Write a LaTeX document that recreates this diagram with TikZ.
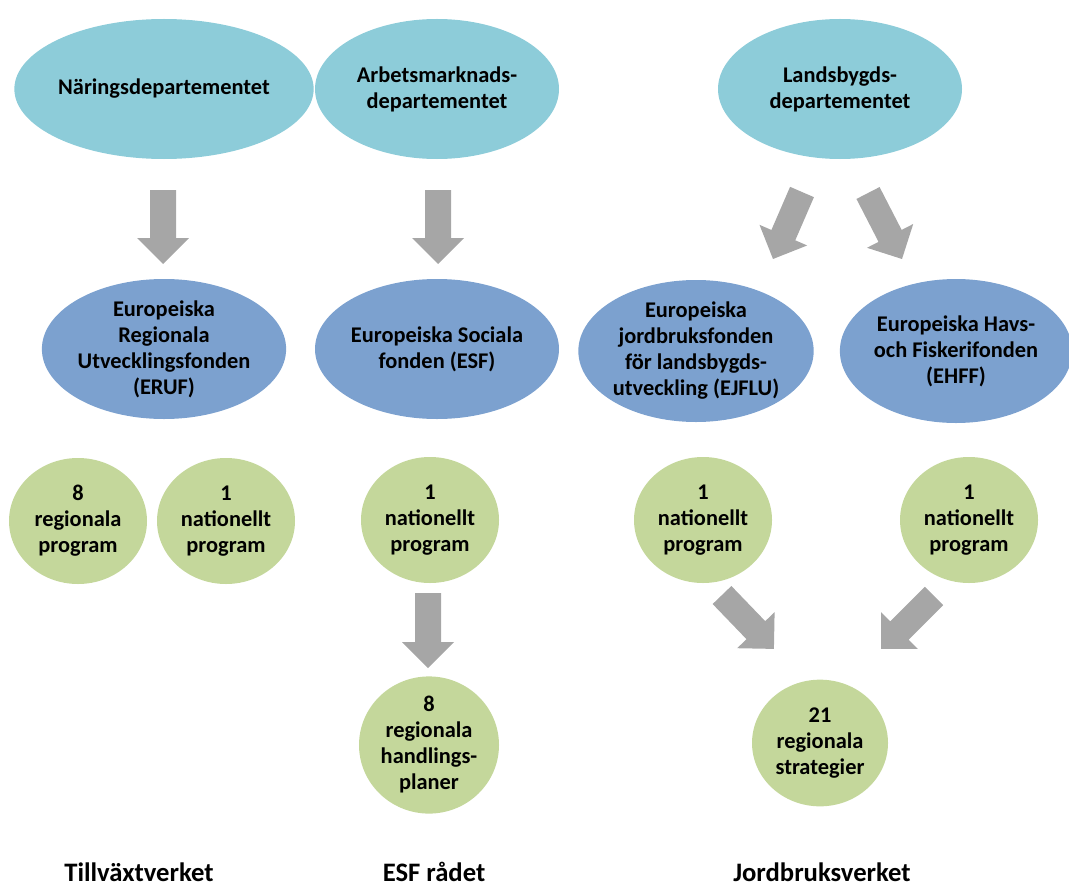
\documentclass[tikz,border=0pt]{standalone}
\usepackage{fontspec}
\setmainfont{Carlito}
\usetikzlibrary{shapes.geometric,calc}
\definecolor{deptcol}{RGB}{141,204,217}
\definecolor{fundcol}{RGB}{124,161,207}
\definecolor{progcol}{RGB}{196,215,155}
\definecolor{arrowgray}{RGB}{166,166,166}
\newcommand\blockarrow[2]{%
  \fill[arrowgray] let \p1=($(#2)-(#1)$), \n1={atan2(\y1,\x1)}, \n2={veclen(\x1,\y1)} in
    [shift={(#1)},rotate=\n1]
    (0pt,-9.75pt) -- ({\n2-19.5pt},-9.75pt) -- ({\n2-19.5pt},-19.5pt) -- ({\n2},0pt)
    -- ({\n2-19.5pt},19.5pt) -- ({\n2-19.5pt},9.75pt) -- (0pt,9.75pt) -- cycle;}
\begin{document}
\begin{tikzpicture}[x=0.75pt,y=-0.75pt,
  every node/.style={font=\fontsize{16.8}{19.5}\selectfont\bfseries, align=center, inner sep=0pt},
  dept/.style={ellipse, fill=deptcol, minimum width=183pt, minimum height=105pt},
  fund/.style={ellipse, fill=fundcol, minimum width=183pt, minimum height=105pt},
  prog/.style={ellipse, fill=progcol, minimum width=103.5pt, minimum height=94.5pt},
  agency/.style={font=\fontsize{20}{24}\selectfont\bfseries}]
\useasboundingbox (0,0) rectangle (1069,888);
% departments
\node[dept] (nd) at (164,89) {Näringsdepartementet};
\node[dept] (ad) at (437,89) {Arbetsmarknads-\\departementet};
\node[dept] (ld) at (840,89) {Landsbygds-\\departementet};
% funds
\node[fund] (eruf) at (164,349) {Europeiska\\Regionala\\Utvecklingsfonden\\(ERUF)};
\node[fund] (esf) at (437,349) {Europeiska Sociala\\fonden (ESF)};
\node[fund, minimum width=171pt, minimum height=106.5pt] (ejflu) at (696,351) {Europeiska\\jordbruksfonden\\för landsbygds-\\utveckling (EJFLU)};
\node[fund, minimum width=171pt, minimum height=108pt] (ehff) at (956,351) {Europeiska Havs-\\och Fiskerifonden\\(EHFF)};
% programmes
\node[prog] (p1) at (78,521) {8\\regionala\\program};
\node[prog] (p2) at (226,521) {1\\nationellt\\program};
\node[prog] (p3) at (430,520) {1\\nationellt\\program};
\node[prog] (p4) at (703,520) {1\\nationellt\\program};
\node[prog] (p5) at (969,520) {1\\nationellt\\program};
\node[prog, minimum width=105pt, minimum height=102pt] (p6) at (429,745) {8\\regionala\\handlings-\\planer};
\node[prog, minimum width=102pt, minimum height=95pt] (p7) at (820,743) {21\\regionala\\strategier};
% agencies
\node[agency] (tv) at (139,872) {Tillväxtverket};
\node[agency] (er) at (434,872) {ESF rådet};
\node[agency] (jv) at (822,872) {Jordbruksverket};
% arrow end points
\coordinate (a1s) at (163,190); \coordinate (a1e) at (163,264);
\coordinate (a2s) at (438,190); \coordinate (a2e) at (438,264);
\coordinate (a3s) at (802,192); \coordinate (a3e) at (773,259);
\coordinate (a4s) at (868,193); \coordinate (a4e) at (902,259);
\coordinate (a5s) at (428,593); \coordinate (a5e) at (428,668);
\coordinate (a6s) at (722,595); \coordinate (a6e) at (774,649);
\coordinate (a7s) at (934,596); \coordinate (a7e) at (881,649);
\blockarrow{a1s}{a1e}
\blockarrow{a2s}{a2e}
\blockarrow{a3s}{a3e}
\blockarrow{a4s}{a4e}
\blockarrow{a5s}{a5e}
\blockarrow{a6s}{a6e}
\blockarrow{a7s}{a7e}
\end{tikzpicture}
\end{document}
